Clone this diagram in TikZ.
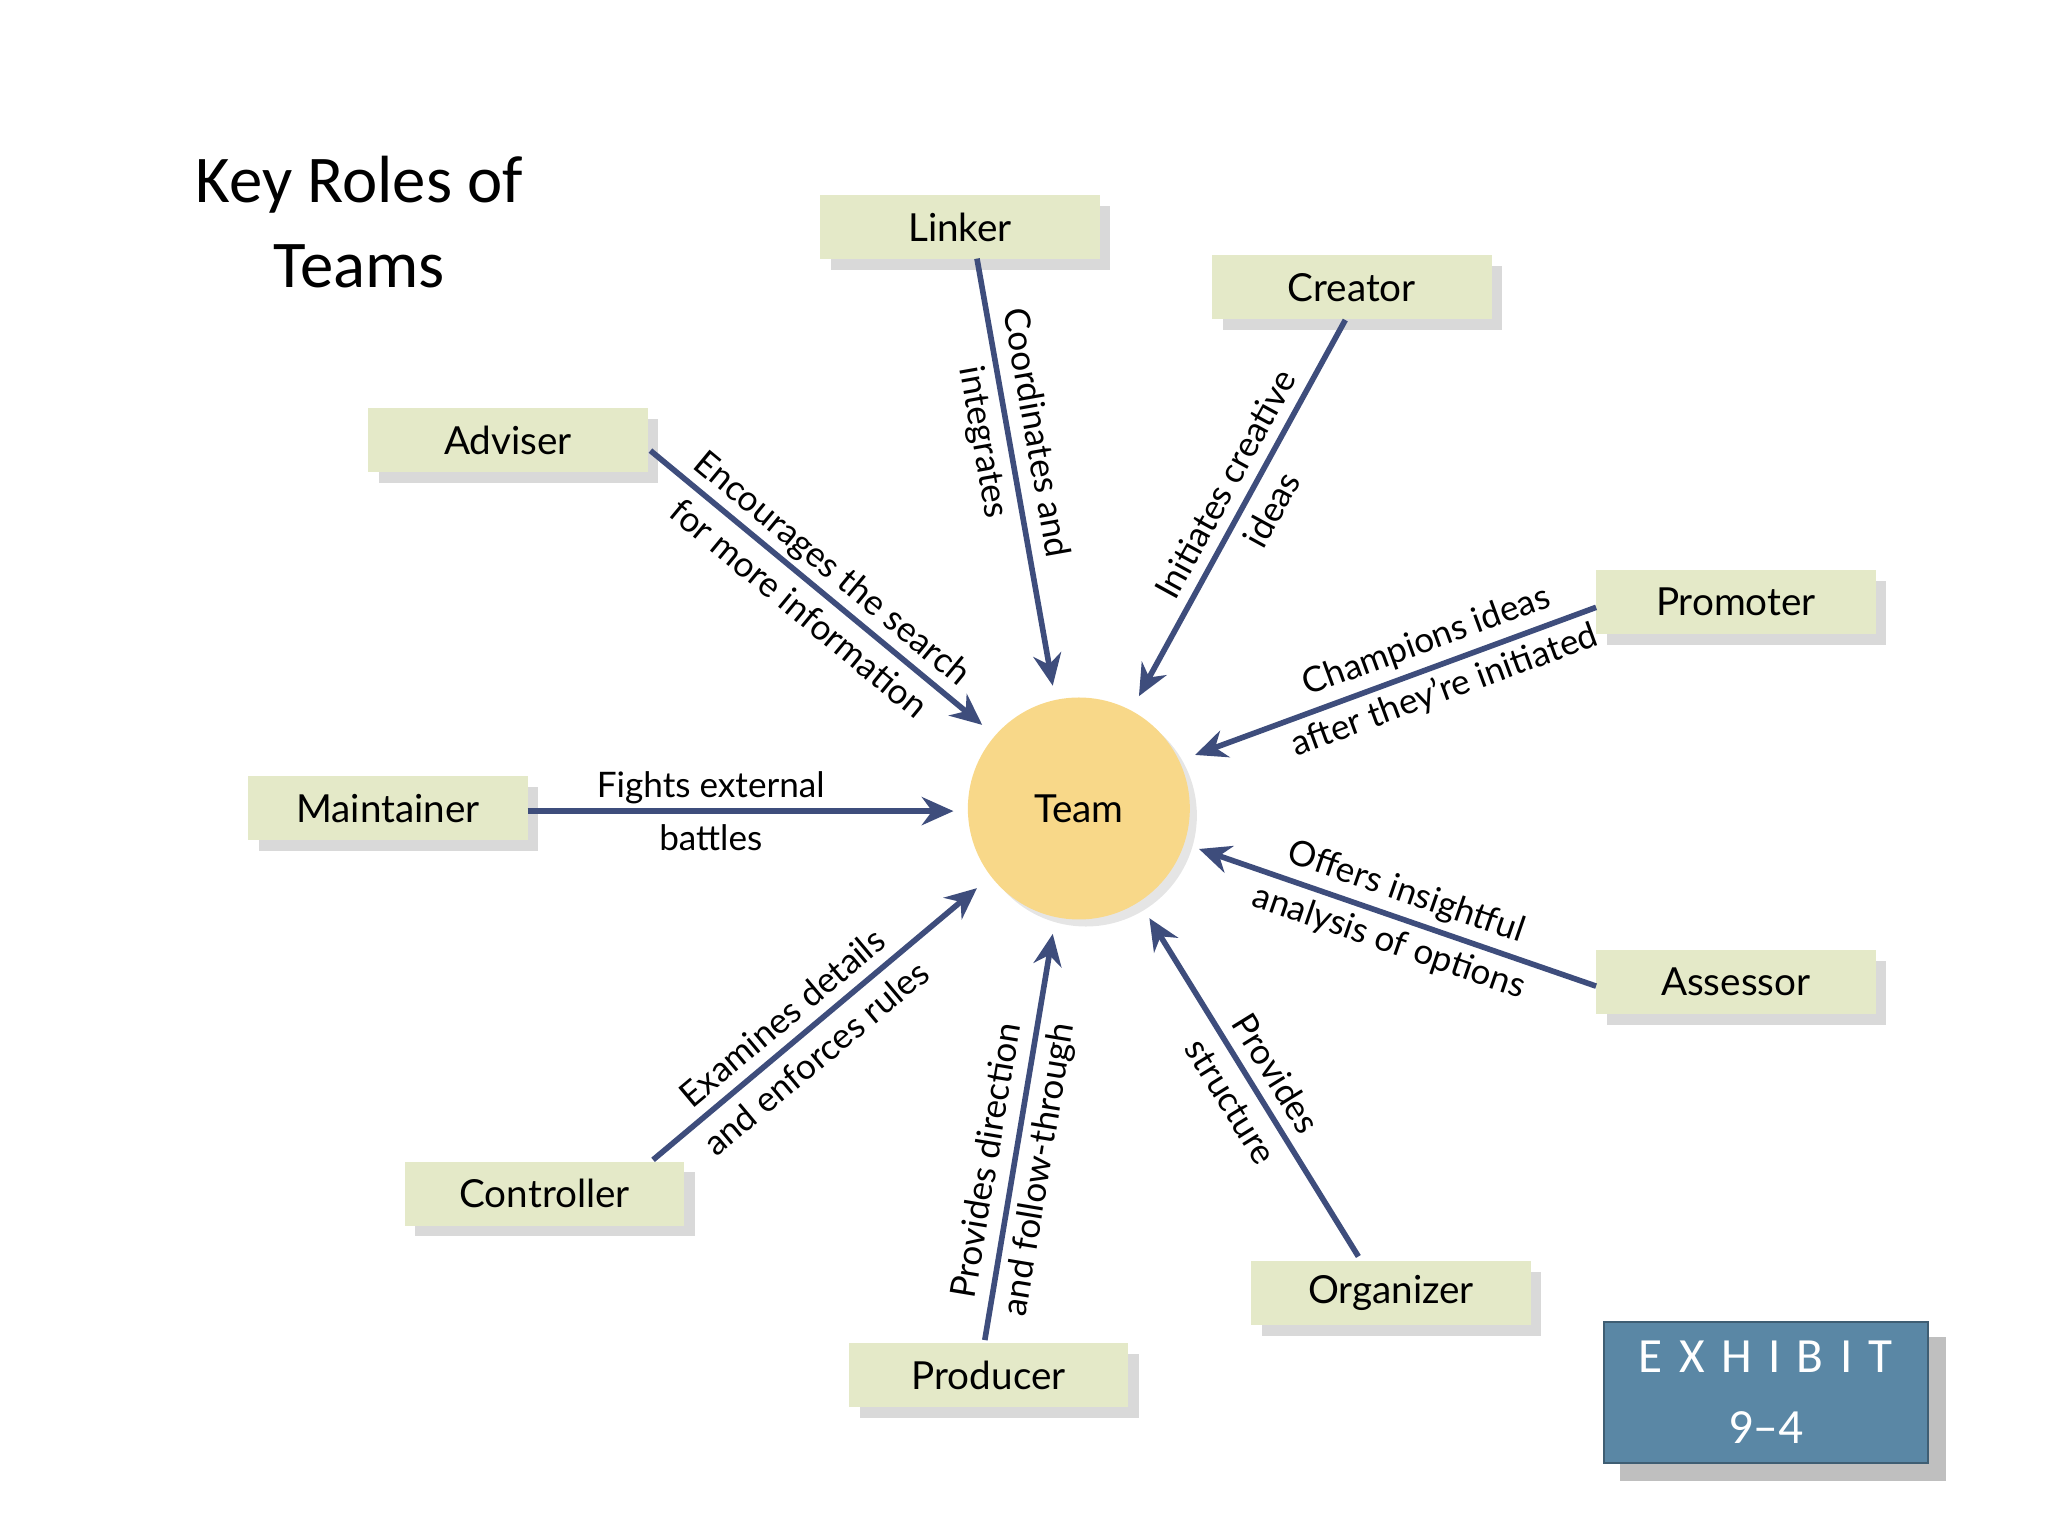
\documentclass[tikz,border=0pt]{standalone}
\usepackage{fontspec}
\setmainfont{Lato}
\newfontfamily\calib{Carlito}
\usetikzlibrary{arrows.meta,shadows}
\definecolor{boxfill}{HTML}{E4E9C8}
\definecolor{arr}{HTML}{3E4D7C}
\definecolor{teamfill}{HTML}{F8D889}
\definecolor{exfill}{HTML}{5A87A5}
\tikzset{
 role/.style={draw=none,fill=boxfill,minimum width=2.795cm,minimum height=0.64cm,font=\fontsize{11}{12}\selectfont,
   drop shadow={shadow xshift=3pt,shadow yshift=-3pt,fill=black!25,opacity=0.6}},
 conn/.style={draw=arr,line width=1.6pt,-{Stealth[length=9pt,width=8pt]}},
 lab/.style={midway,sloped,align=center,font=\fontsize{10}{15}\selectfont,inner sep=0pt}
}
\begin{document}
\begin{tikzpicture}[x=0.013061cm,y=-0.013061cm]
\useasboundingbox (0,0) rectangle (1568,1176);
\node[align=center,font=\calib\fontsize{19}{24}\selectfont] (title) at (275,170) {Key Roles of\\Teams};
\node[circle,fill=teamfill,minimum size=2.22cm,font=\fontsize{11}{12}\selectfont,
  drop shadow={shadow xshift=2pt,shadow yshift=-2pt,fill=black!20,opacity=0.5}] (team) at (826,619) {Team};
\node[role] (linker) at (735,174) {Linker};
\node[role] (creator) at (1035,220) {Creator};
\node[role] (adviser) at (389,337) {Adviser};
\node[role] (promoter) at (1329,461) {Promoter};
\node[role] (maintainer) at (297,619) {Maintainer};
\node[role] (assessor) at (1329,752) {Assessor};
\node[role] (controller) at (417,914) {Controller};
\node[role] (organizer) at (1065,990) {Organizer};
\node[role] (producer) at (757,1053) {Producer};
\coordinate (l1) at (748,198); \coordinate (l2) at (806,525);
\coordinate (c1) at (1030,245); \coordinate (c2) at (872,533);
\coordinate (a1) at (498,345); \coordinate (a2) at (752,555);
\coordinate (p1) at (1222,465); \coordinate (p2) at (915,578);
\coordinate (m1) at (404,621); \coordinate (m2) at (730,621);
\coordinate (s1) at (1222,755); \coordinate (s2) at (918,650);
\coordinate (k1) at (500,888); \coordinate (k2) at (748,680);
\coordinate (o1) at (1040,962); \coordinate (o2) at (880,703);
\coordinate (r1) at (754,1026); \coordinate (r2) at (806,715);
\draw[conn] (l1) -- node[lab,pos=0.42]{Coordinates and\\integrates} (l2);
\draw[conn] (c1) -- node[lab,pos=0.47]{Initiates creative\\ideas} (c2);
\draw[conn] (a1) -- node[lab,pos=0.5]{Encourages the search\\for more information} (a2);
\draw[conn] (p1) -- node[lab,pos=0.4]{Champions ideas\\after they're initiated} (p2);
\draw[conn] (m1) -- node[lab,pos=0.43]{Fights external\\battles} (m2);
\draw[conn] (s1) -- node[lab,pos=0.5]{Offers insightful\\analysis of options} (s2);
\draw[conn] (k1) -- node[lab,pos=0.45]{Examines details\\and enforces rules} (k2);
\draw[conn] (o1) -- node[lab,pos=0.5]{Provides\\structure} (o2);
\draw[conn] (r1) -- node[lab,pos=0.43]{Provides direction\\and follow-through} (r2);
\fill[black!25] (1240,1024) rectangle (1490,1134);
\node[fill=exfill,draw=exfill!70!black,minimum width=3.24cm,minimum height=1.41cm,align=center,text=white,
  font=\calib\fontsize{14}{20}\selectfont] (exhibit) at (1352,1066) {E\,\,X\,\,H\,\,I\,\,B\,\,I\,\,T\\9–4};
\end{tikzpicture}
\end{document}
